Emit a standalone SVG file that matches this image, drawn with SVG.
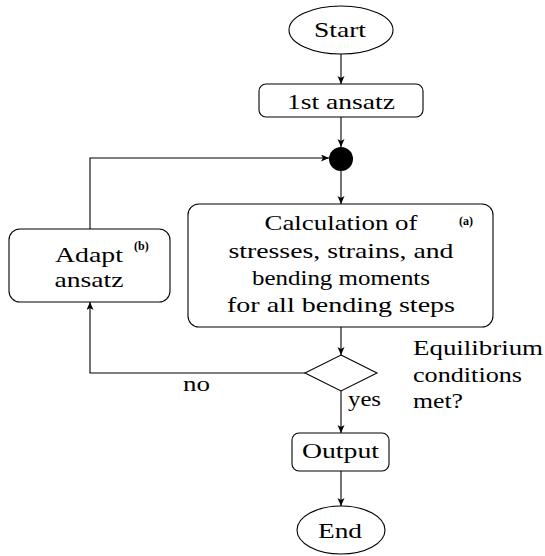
<svg xmlns="http://www.w3.org/2000/svg" width="545" height="556" viewBox="0 0 545 556">
<defs>
<marker id="arr" markerUnits="userSpaceOnUse" markerWidth="10" markerHeight="8" refX="8" refY="3.5" orient="auto">
<path d="M0,0 L8,3.5 L0,7 L2,3.5 z" fill="#000"/>
</marker>
<style>
.s{fill:#fff;stroke:#000;stroke-width:1.1}
.t{font-size:22px;text-anchor:middle;fill:#000}
.tl{font-size:22px;fill:#000}
.sm{font-size:12px;font-weight:bold;fill:#000}
.c{fill:none;stroke:#000;stroke-width:1.1;marker-end:url(#arr)}
</style>
</defs>
<rect width="545" height="556" fill="#fff"/>
<g id="connectors">
<line class="c" x1="341" y1="54" x2="341" y2="84"/>
<line class="c" x1="341" y1="117" x2="341" y2="147"/>
<line class="c" x1="341" y1="171" x2="341" y2="204"/>
<polyline class="c" points="90,229 90,158 329,158"/>
<line class="c" x1="341" y1="327" x2="341" y2="355"/>
<polyline class="c" points="305,373 90,373 90,302"/>
<line class="c" x1="341" y1="391" x2="341" y2="433"/>
<line class="c" x1="341" y1="471" x2="341" y2="506"/>
<text class="tl" font-family="Liberation Serif, serif" x="183" y="391" textLength="27" lengthAdjust="spacingAndGlyphs">no</text>
<text class="tl" font-family="Liberation Serif, serif" x="348" y="406" textLength="33" lengthAdjust="spacingAndGlyphs">yes</text>
</g>
<g id="start">
<ellipse class="s" cx="341" cy="30" rx="52" ry="24"/>
<text class="t" font-family="Liberation Serif, serif" x="340" y="37" textLength="52" lengthAdjust="spacingAndGlyphs">Start</text>
</g>
<g id="ansatz1">
<rect class="s" x="259" y="84" width="164" height="33" rx="7"/>
<text class="t" font-family="Liberation Serif, serif" x="341" y="109" textLength="108" lengthAdjust="spacingAndGlyphs">1st ansatz</text>
</g>
<g id="merge">
<circle cx="341" cy="159" r="12" fill="#000"/>
</g>
<g id="calc">
<rect class="s" x="188" y="204" width="305" height="123" rx="11"/>
<text class="t" font-family="Liberation Serif, serif" x="341" y="230" textLength="153" lengthAdjust="spacingAndGlyphs">Calculation of</text>
<text class="t" font-family="Liberation Serif, serif" x="341" y="258" textLength="225" lengthAdjust="spacingAndGlyphs">stresses, strains, and</text>
<text class="t" font-family="Liberation Serif, serif" x="341" y="285" textLength="178" lengthAdjust="spacingAndGlyphs">bending moments</text>
<text class="t" font-family="Liberation Serif, serif" x="341" y="312" textLength="228" lengthAdjust="spacingAndGlyphs">for all bending steps</text>
<text class="sm" font-family="Liberation Serif, serif" x="459" y="225">(a)</text>
</g>
<g id="adapt">
<rect class="s" x="9" y="229" width="161" height="73" rx="11"/>
<text class="t" font-family="Liberation Serif, serif" x="89" y="262" textLength="68" lengthAdjust="spacingAndGlyphs">Adapt</text>
<text class="t" font-family="Liberation Serif, serif" x="89" y="287" textLength="69" lengthAdjust="spacingAndGlyphs">ansatz</text>
<text class="sm" font-family="Liberation Serif, serif" x="134" y="250">(b)</text>
</g>
<g id="decision">
<polygon class="s" points="341,355 377,373 341,391 305,373"/>
<text class="tl" font-family="Liberation Serif, serif" x="413" y="355" textLength="130" lengthAdjust="spacingAndGlyphs">Equilibrium</text>
<text class="tl" font-family="Liberation Serif, serif" x="413" y="382" textLength="109" lengthAdjust="spacingAndGlyphs">conditions</text>
<text class="tl" font-family="Liberation Serif, serif" x="413" y="408" textLength="50" lengthAdjust="spacingAndGlyphs">met?</text>
</g>
<g id="output">
<rect class="s" x="292" y="433" width="97" height="38" rx="7"/>
<text class="t" font-family="Liberation Serif, serif" x="340.5" y="458" textLength="77" lengthAdjust="spacingAndGlyphs">Output</text>
</g>
<g id="end">
<ellipse class="s" cx="341" cy="530" rx="44" ry="24"/>
<text class="t" font-family="Liberation Serif, serif" x="340" y="538" textLength="44" lengthAdjust="spacingAndGlyphs">End</text>
</g>
</svg>
